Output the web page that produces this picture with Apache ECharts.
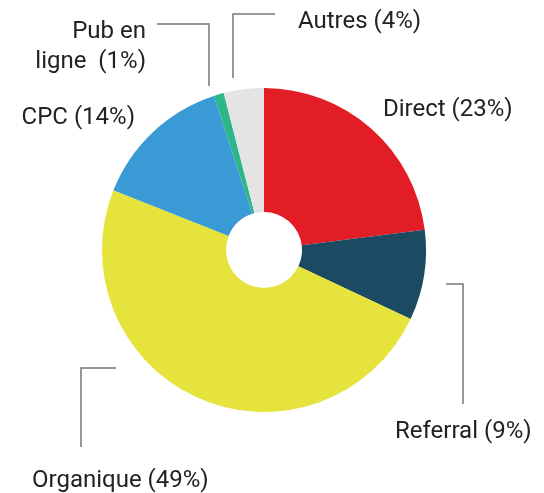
<!DOCTYPE html>
<html>
<head>
<meta charset="utf-8">
<script src="https://cdn.jsdelivr.net/npm/echarts@6/dist/echarts.min.js"></script>
<style>
  html, body { margin: 0; padding: 0; background: #fff; }
  #chart { width: 544px; height: 493px; }
</style>
</head>
<body>
<div id="chart"></div>
<script>
// traffic sources, clockwise from 12 o'clock
const categories = ['Direct', 'Referral', 'Organique', 'CPC', 'Pub en ligne', 'Autres']
const labelTexts = ['Direct (23%)', 'Referral (9%)', 'Organique (49%)', 'CPC (14%)', 'Pub en\nligne  (1%)', 'Autres (4%)']
const values = [23, 9, 49, 14, 1, 4]
const colors = ['#e31d25', '#1b4a62', '#e6e33c', '#3a9ad5', '#2db68c', '#e4e4e4']

// where each label sits and how its leader line runs (null = no line)
const labelSpots = [
  { x: 383, y: 110, align: 'left', line: null },
  { x: 395, y: 432, align: 'left', line: [[446, 284], [463, 284], [463, 404]] },
  { x: 32, y: 481, align: 'left', line: [[116, 368], [81, 368], [81, 447]] },
  { x: 135, y: 118, align: 'right', line: null },
  { x: 146, y: 47, align: 'right', line: [[157, 24], [209, 24], [209, 86]] },
  { x: 298, y: 22, align: 'left', line: [[275, 14], [233, 14], [233, 78]] }
]

const chart = echarts.init(document.getElementById('chart'))

chart.setOption({
  animation: false,
  series: [{
    type: 'pie',
    center: [264, 250],
    radius: [38, 162],
    startAngle: 90,
    clockwise: true,
    avoidLabelOverlap: false,
    emphasis: { disabled: true },
    data: categories.map((name, i) => ({
      name,
      value: values[i],
      itemStyle: { color: colors[i] },
      labelLine: { show: labelSpots[i].line !== null }
    })),
    label: {
      show: true,
      formatter: (p) => labelTexts[p.dataIndex],
      fontFamily: 'Roboto',
      fontSize: 24,
      lineHeight: 30,
      color: '#222'
    },
    labelLine: {
      lineStyle: { color: '#777', width: 1.5 }
    },
    labelLayout: (params) => {
      const spot = labelSpots[params.dataIndex]
      const out = {
        x: spot.x,
        y: spot.y,
        align: spot.align,
        verticalAlign: 'middle'
      }
      if (spot.line) out.labelLinePoints = spot.line
      return out
    }
  }]
})
</script>
</body>
</html>
